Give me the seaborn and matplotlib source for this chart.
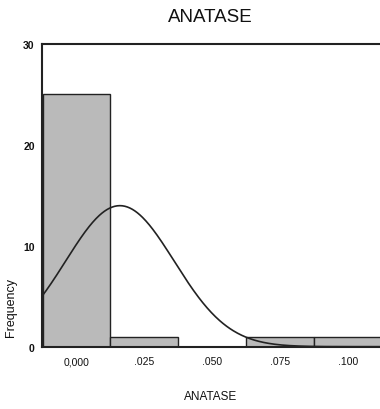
import numpy as np
import pandas as pd
import matplotlib
matplotlib.use("Agg")
import matplotlib.pyplot as plt
import seaborn as sns

# Data
bin_centers = [0.000, 0.025, 0.050, 0.075, 0.100]
bin_counts = [25, 1, 0, 1, 1]
bin_width = 0.025
curve_mean = 0.016
curve_sd = 0.020
n_total = 28
x_ticks = [0.000, 0.025, 0.050, 0.075, 0.100]
x_tick_labels = ["0,000", ".025", ".050", ".075", ".100"]
y_ticks = [0, 10, 20, 30]

sns.set_theme(style="white")
plt.rcParams["font.family"] = ["Liberation Sans", "DejaVu Sans"]
plt.rcParams["text.color"] = "#111111"
plt.rcParams["xtick.color"] = "#111111"
plt.rcParams["ytick.color"] = "#111111"

fig = plt.figure(figsize=(3.8, 4.1), dpi=100)
ax = fig.add_axes([0.1097, 0.152, 0.8903, 0.739])

df = pd.DataFrame({"ANATASE": bin_centers, "count": bin_counts})
sns.histplot(data=df, x="ANATASE", weights="count", binwidth=bin_width,
             binrange=(-bin_width / 2, 0.1125), ax=ax,
             color="#bababa", edgecolor="#222222", linewidth=1.0, alpha=1.0)

# Normal curve
xs = np.linspace(-0.0128, 0.1118, 400)
ys = n_total * bin_width / (curve_sd * np.sqrt(2 * np.pi)) * np.exp(-0.5 * ((xs - curve_mean) / curve_sd) ** 2)
sns.lineplot(x=xs, y=ys, ax=ax, color="#222222", linewidth=1.2)

ax.set_xlim(-0.0128, 0.1118)
ax.set_ylim(0, 30)
ax.set_xticks(x_ticks)
ax.set_xticklabels(x_tick_labels, fontsize=7.5)
ax.set_yticks(y_ticks)
ax.set_yticklabels([str(v) for v in y_ticks], fontsize=7.5, fontweight="bold")
ax.tick_params(axis="both", direction="out", length=3, width=1.5, color="#222222", labelcolor="#111111", pad=2)
ax.tick_params(axis="x", pad=4)
for s in ["left", "bottom", "top"]:
    ax.spines[s].set_visible(True)
    ax.spines[s].set_color("#222222")
    ax.spines[s].set_linewidth(1.5)
ax.spines["right"].set_visible(False)
ax.set_xlabel("")
ax.set_ylabel("")
ax.grid(False)

fig.text(0.553, 0.958, "ANATASE", ha="center", va="center", fontsize=13.5)
fig.text(0.553, 0.032, "ANATASE", ha="center", va="center", fontsize=8.5)
fig.text(0.028, 0.25, "Frequency", ha="center", va="center", rotation=90, fontsize=9)

fig.savefig("out.png", dpi=100)
